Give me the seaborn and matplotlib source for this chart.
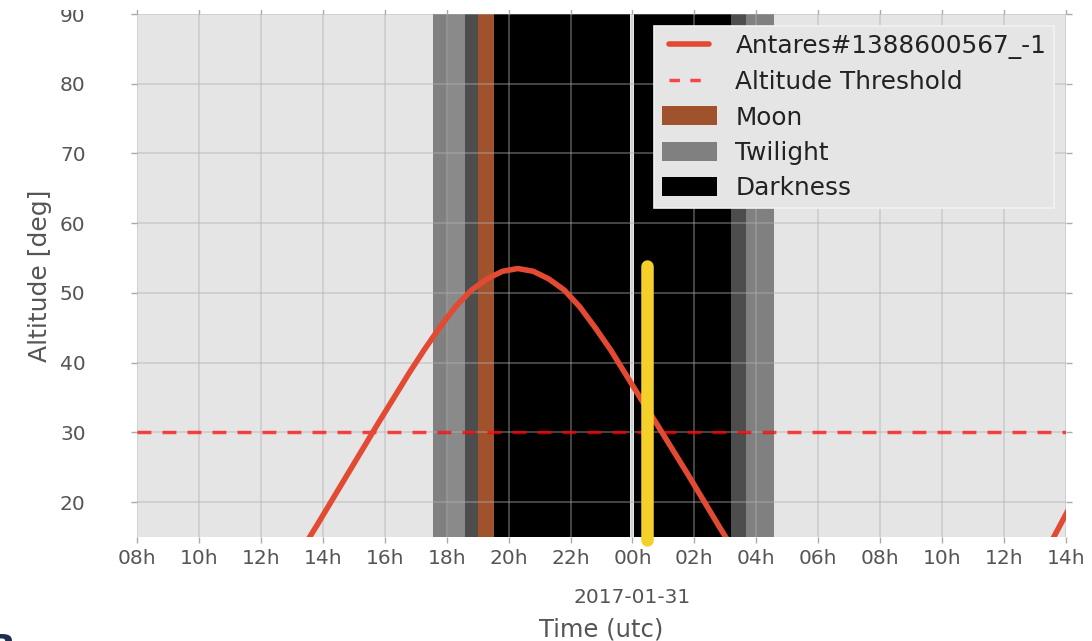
import matplotlib
matplotlib.use("Agg")
import matplotlib.pyplot as plt
import matplotlib.dates as mdates
from matplotlib.patches import Patch, Rectangle
from matplotlib.lines import Line2D
from matplotlib.legend_handler import HandlerLine2D
import pandas as pd
import seaborn as sns

# ---- data (hours counted from 2017-01-30 00:00 UTC) ----
base_day = "2017-01-30"
target_name = "Antares#1388600567_-1"

set_hours = [13.30, 13.80, 14.30, 14.80, 15.30, 15.80, 16.30, 16.80, 17.30, 17.80,
             18.30, 18.80, 19.30, 19.80, 20.30, 20.80, 21.30, 21.80, 22.30, 22.80,
             23.30, 23.80, 24.30, 24.80, 25.30, 25.80, 26.30, 26.80, 27.30]
set_alt = [13.0, 16.6, 20.3, 24.0, 27.7, 31.4, 35.0, 38.6, 42.0, 45.2,
           48.1, 50.4, 52.0, 53.1, 53.5, 53.1, 52.0, 50.4, 48.0, 45.0,
           41.8, 38.2, 34.6, 31.1, 27.5, 23.9, 20.2, 16.5, 12.9]

rise_hours = [37.45, 38.10]
rise_alt = [13.7, 19.1]

threshold_alt = 30

# highlighter stroke marking the observation time
mark_hour = 24.48
mark_alt = [14.6, 53.9]

twilight_start = [17.55, 18.03, 18.58, 27.19, 27.68]
twilight_end = [18.03, 18.58, 19.00, 27.68, 28.58]
twilight_phase = ["civil", "nautical", "astronomical", "astronomical", "civil"]

darkness_start = [19.00, 24.065]
darkness_end = [23.935, 27.19]

moon_start = [19.00]
moon_end = [19.52]

x_range = [8, 38]
y_range = [15, 90]

# ---- styling ----
sns.set_style("darkgrid", rc={"axes.facecolor": "#E5E5E5"})
plt.rcParams["font.family"] = ["DejaVu Sans"]

red = "#E24A33"
phase_colors = {"civil": "#808080", "nautical": "#8a8a8a", "astronomical": "#4d4d4d"}
moon_color = "#A0522D"

t0 = pd.Timestamp(base_day)


def to_time(hours):
    return t0 + pd.to_timedelta(hours, unit="h")


def to_num(hours):
    return mdates.date2num(to_time(hours))


fig = plt.figure(figsize=(10.92, 6.41), dpi=100)
ax = fig.add_axes([137 / 1092, 1 - 537 / 641, (1066 - 137) / 1092, (537 - 14) / 641])

# night shading
for s, e, p in zip(twilight_start, twilight_end, twilight_phase):
    ax.axvspan(to_num(s), to_num(e), color=phase_colors[p], lw=0, zorder=0.8)
for s, e in zip(darkness_start, darkness_end):
    ax.axvspan(to_num(s), to_num(e), color="black", lw=0, zorder=0.8)
for s, e in zip(moon_start, moon_end):
    ax.axvspan(to_num(s), to_num(e), color=moon_color, lw=0, zorder=0.9)

# altitude track
df_set = pd.DataFrame({"time": to_time(pd.Series(set_hours)), "alt": set_alt})
df_rise = pd.DataFrame({"time": to_time(pd.Series(rise_hours)), "alt": rise_alt})
sns.lineplot(data=df_set, x="time", y="alt", ax=ax, color=red, lw=4, zorder=3)
sns.lineplot(data=df_rise, x="time", y="alt", ax=ax, color=red, lw=4, zorder=3)

ax.axhline(threshold_alt, color="red", alpha=0.7, lw=2.5, dashes=(4, 3.2), zorder=2.8)

# yellow marker stroke
ax.plot([to_num(mark_hour)] * 2, mark_alt, color="#F5D02A", lw=9,
        solid_capstyle="round", zorder=4, clip_on=False)

ax.set_xlim(to_num(x_range[0]), to_num(x_range[1]))
ax.set_ylim(*y_range)

ax.xaxis.remove_overlapping_locs = False
ax.xaxis.set_major_locator(mdates.HourLocator(byhour=range(0, 24, 2)))
ax.xaxis.set_major_formatter(mdates.DateFormatter("%Hh"))
ax.xaxis.set_minor_locator(mdates.DayLocator())
ax.xaxis.set_minor_formatter(mdates.DateFormatter("%Y-%m-%d"))
ax.yaxis.set_major_locator(plt.MultipleLocator(10))

ax.set_axisbelow("line")
ax.grid(True, which="major", color="#b0b0b0", alpha=0.5, lw=1.1)
ax.grid(False, which="minor")
for sp in ax.spines.values():
    sp.set_visible(False)

ax.tick_params(axis="both", which="major", direction="out", length=4, width=1,
               color="#aaaaaa", labelcolor="#555555", labelsize=14.5,
               top=True, right=True, bottom=True, left=True)
ax.tick_params(axis="x", which="major", pad=5)
ax.tick_params(axis="y", which="major", pad=33)
ax.tick_params(axis="x", which="minor", length=0, pad=37, labelsize=14.5,
               labelcolor="#555555", top=False)

ax.set_xlabel("Time (utc)", fontsize=17.5, color="#555555", labelpad=7)
ax.set_ylabel("Altitude [deg]", fontsize=18, color="#555555", labelpad=6)


class InsetLine(HandlerLine2D):
    def create_artists(self, legend, orig_handle, xdescent, ydescent, width,
                       height, fontsize, trans):
        inset = 0.3 * fontsize
        return super().create_artists(legend, orig_handle, xdescent - inset,
                                      ydescent, width - 2 * inset, height,
                                      fontsize, trans)


h_track = Line2D([], [], color=red, lw=4)
h_thr = Line2D([], [], color="red", alpha=0.7, lw=2.5, dashes=(3, 3))
handles = [h_track, h_thr,
           Patch(facecolor=moon_color, edgecolor="none"),
           Patch(facecolor="#808080", edgecolor="none"),
           Patch(facecolor="black", edgecolor="none")]
labels = [target_name, "Altitude Threshold", "Moon", "Twilight", "Darkness"]
leg = ax.legend(handles, labels, loc="upper right", fontsize=17.8,
                handlelength=2.23, handleheight=0.8, handletextpad=0.75,
                labelspacing=0.46, borderpad=0.3, borderaxespad=0.5,
                frameon=True, fancybox=False, framealpha=1,
                facecolor="#E5E5E5", edgecolor="#f2f2f2",
                handler_map={Line2D: InsetLine()})
leg.get_frame().set_linewidth(1.2)
for t in leg.get_texts():
    t.set_color("#222222")

# the figure is trimmed along its top edge
fig.add_artist(Rectangle((0, 1 - 10 / 641), 1, 10 / 641, transform=fig.transFigure,
                         facecolor="white", edgecolor="none", zorder=10))

fig.text(-0.011, 0.0125, "B", fontsize=26, fontweight="bold", color="#1f2d50",
         va="top", ha="left")

fig.savefig("out.png", dpi=100)
